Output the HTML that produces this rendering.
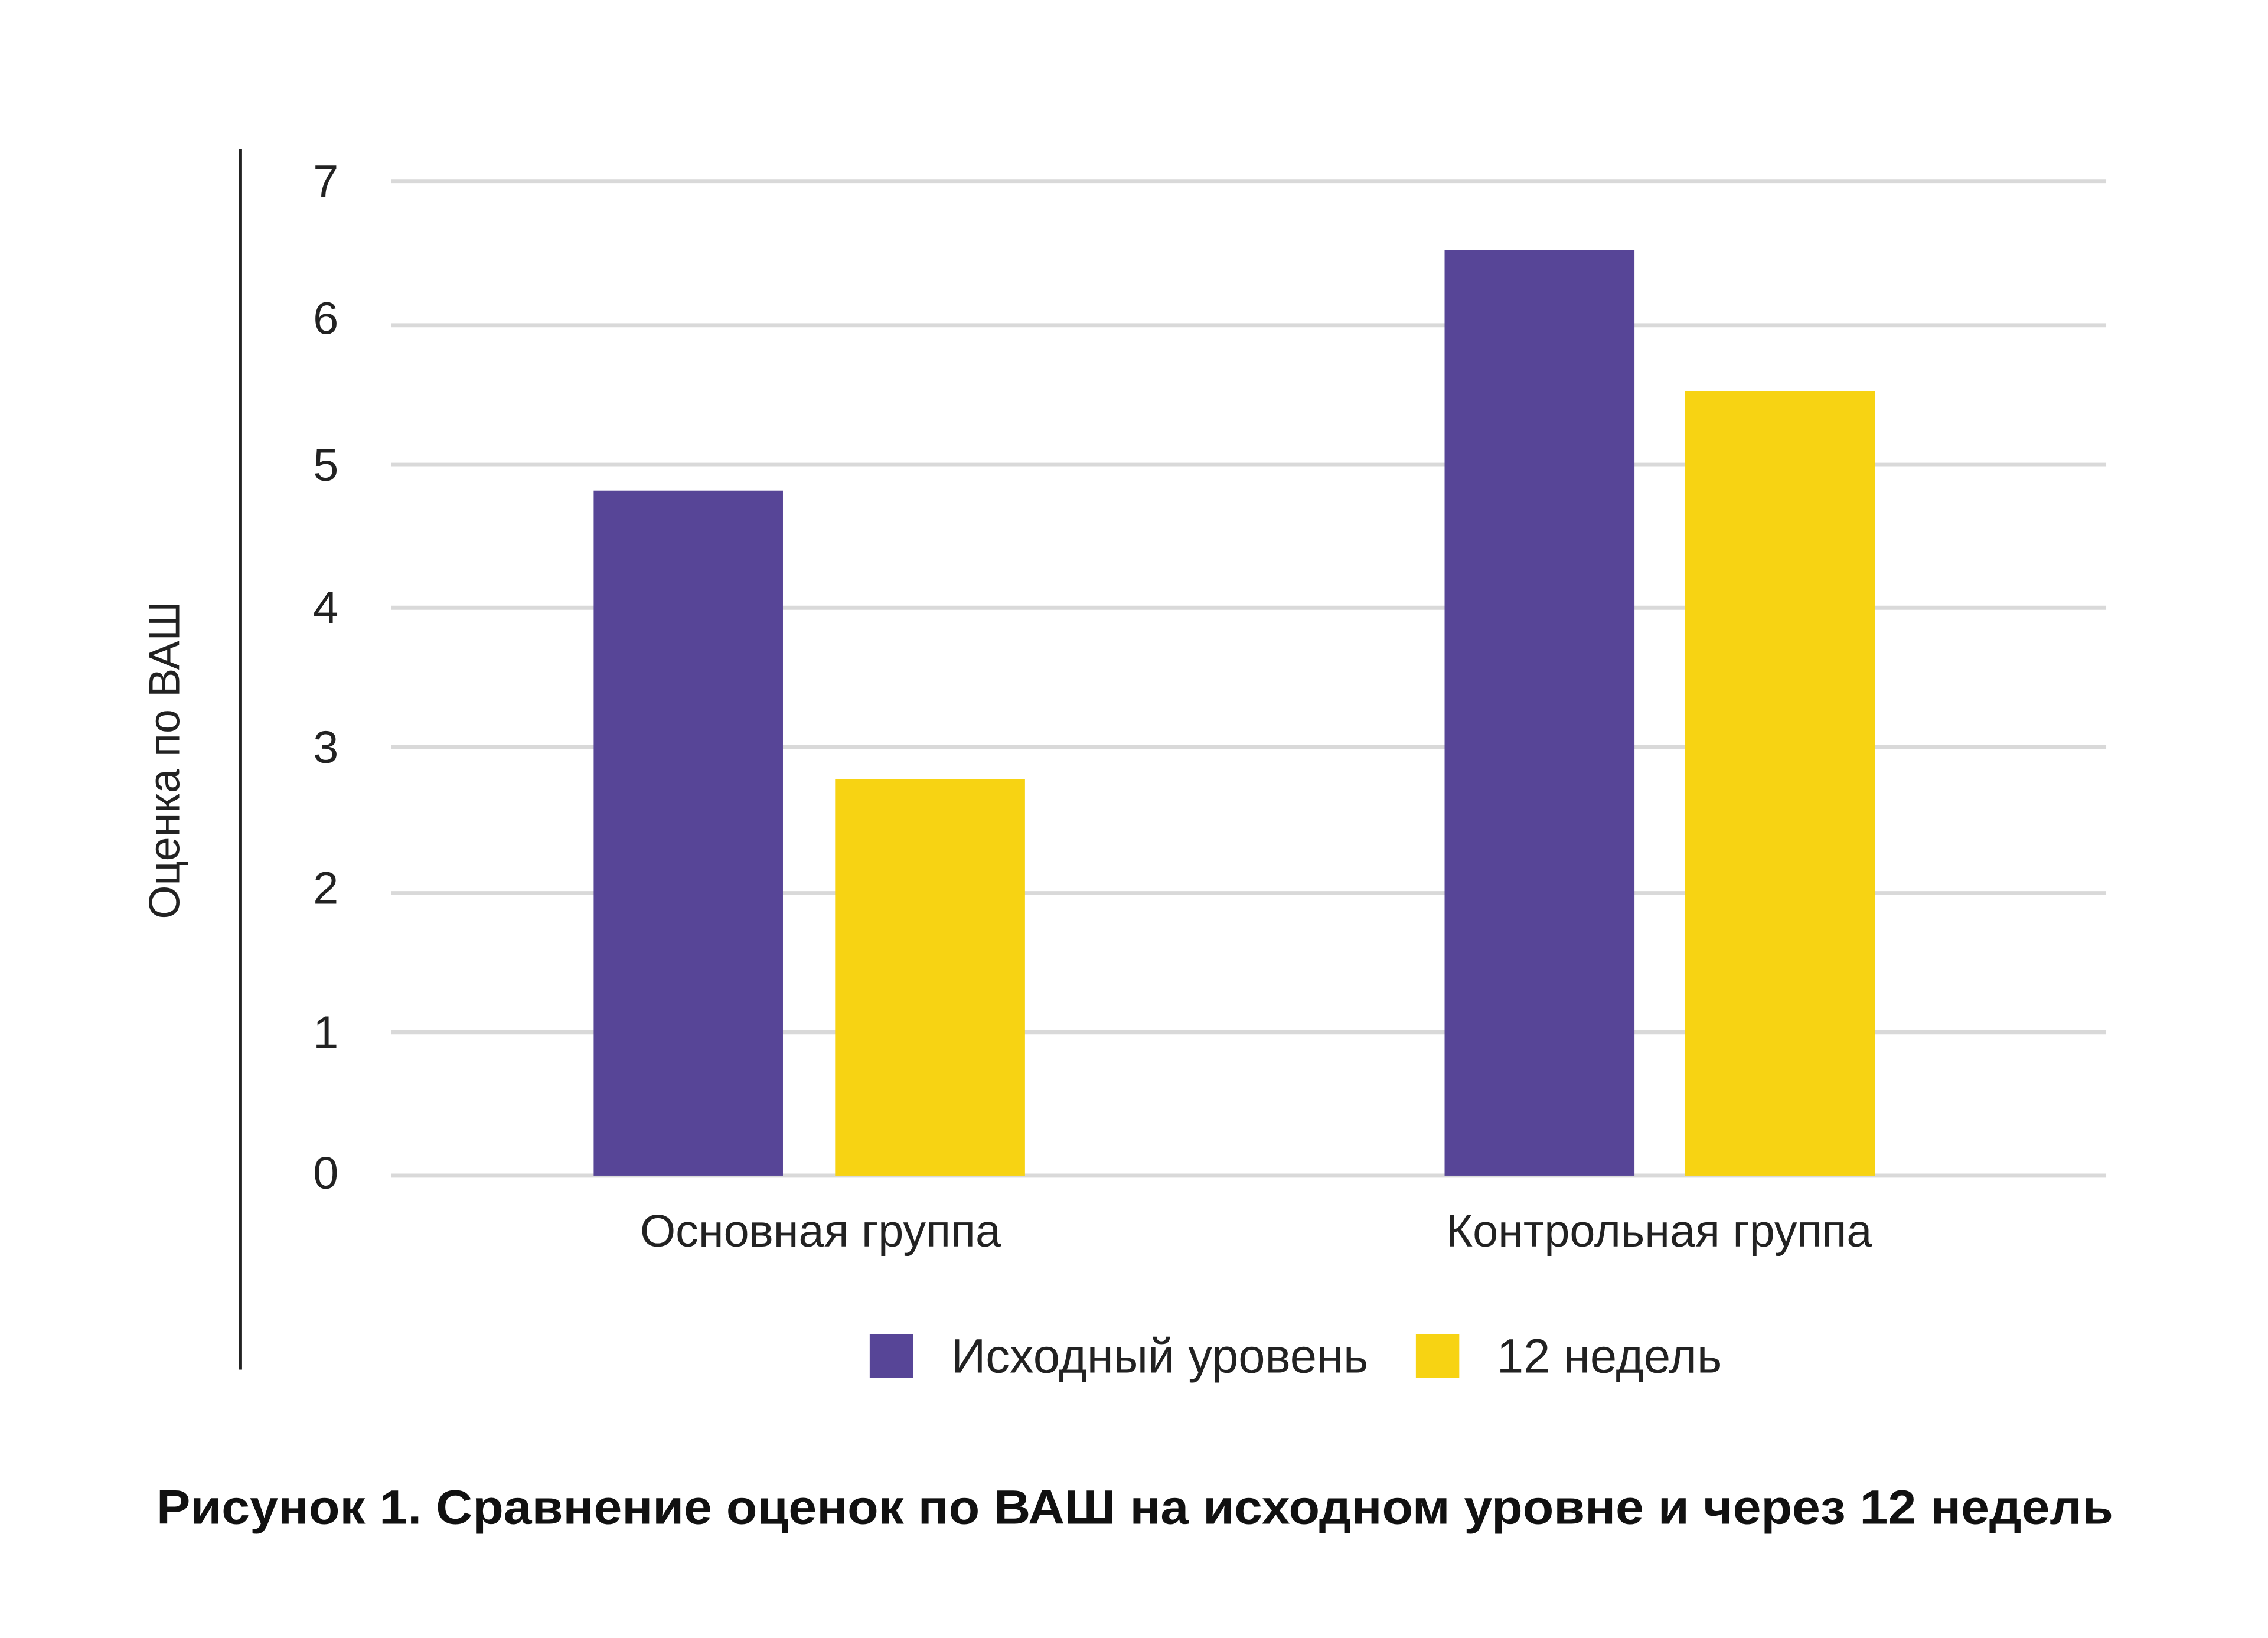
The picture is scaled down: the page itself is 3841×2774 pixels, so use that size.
<!DOCTYPE html>
<html><head><meta charset="utf-8"><style>html,body{margin:0;padding:0;background:#fff}svg{display:block}</style></head>
<body>
<svg width="3841" height="2774" viewBox="0 0 3841 2774" xmlns="http://www.w3.org/2000/svg" font-family="Liberation Sans, DejaVu Sans, sans-serif">
<rect width="3841" height="2774" fill="#fff"/>
<g transform="scale(0.9925)">
<g stroke="#d9d9d9" stroke-width="7">
<line x1="667" x2="3594" y1="309" y2="309"/>
<line x1="667" x2="3594" y1="555" y2="555"/>
<line x1="667" x2="3594" y1="793" y2="793"/>
<line x1="667" x2="3594" y1="1037" y2="1037"/>
<line x1="667" x2="3594" y1="1275" y2="1275"/>
<line x1="667" x2="3594" y1="1524" y2="1524"/>
<line x1="667" x2="3594" y1="1761" y2="1761"/>
<line x1="667" x2="3594" y1="2006" y2="2006"/>
</g>
<rect x="1013" y="837" width="323" height="1169" fill="#574597"/>
<rect x="1425" y="1329" width="324" height="677" fill="#F7D313"/>
<rect x="2465" y="427" width="324" height="1579" fill="#574597"/>
<rect x="2875" y="667" width="324" height="1339" fill="#F7D313"/>
<line x1="410" x2="410" y1="254" y2="2337" stroke="#222" stroke-width="4"/>
<g font-size="78" fill="#222" text-anchor="middle">
<text x="556" y="336">7</text>
<text x="556" y="570">6</text>
<text x="556" y="820">5</text>
<text x="556" y="1063">4</text>
<text x="556" y="1302">3</text>
<text x="556" y="1542">2</text>
<text x="556" y="1788">1</text>
<text x="556" y="2028">0</text>
</g>
<text transform="translate(306,1297) rotate(-90)" font-size="74" fill="#222" text-anchor="middle">Оценка по ВАШ</text>
<text x="1400" y="2127" font-size="78" fill="#222" text-anchor="middle">Основная группа</text>
<text x="2831" y="2127" font-size="78" fill="#222" text-anchor="middle">Контрольная группа</text>
<rect x="1484" y="2277" width="74" height="74" fill="#574597"/>
<text x="1623" y="2342" font-size="82" fill="#222">Исходный уровень</text>
<rect x="2416" y="2277" width="74" height="74" fill="#F7D313"/>
<text x="2554" y="2342" font-size="82" fill="#222">12 недель</text>
<text x="267" y="2600" font-size="82" font-weight="bold" fill="#111" textLength="3339" lengthAdjust="spacingAndGlyphs">Рисунок 1. Сравнение оценок по ВАШ на исходном уровне и через 12 недель</text>
</g>
</svg>
</body></html>
